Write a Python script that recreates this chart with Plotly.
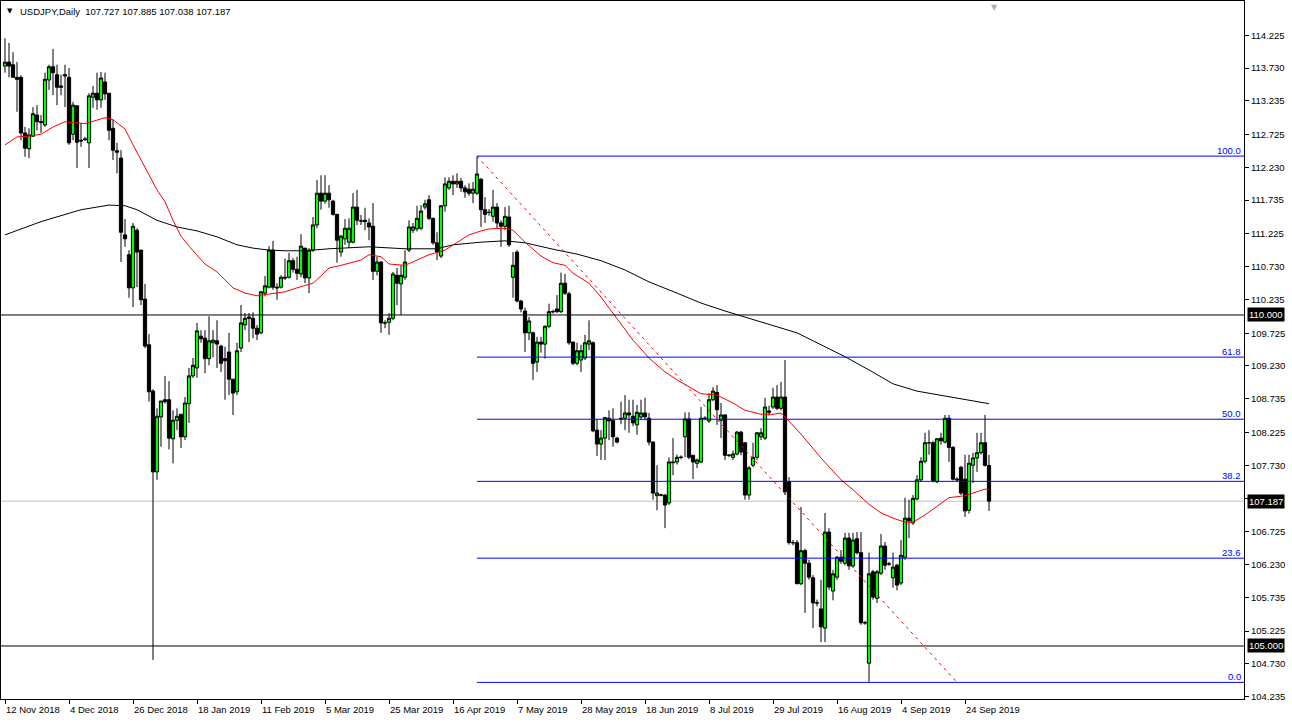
import plotly.graph_objects as go

# ---------------- data ----------------
opens = [113.76,113.82,113.78,113.59,113.59,112.75,112.51,112.70,113.02,112.92,
         112.87,113.55,113.75,113.63,113.46,113.63,113.59,112.73,113.16,112.64,
         112.66,112.60,113.29,113.35,113.25,113.52,113.35,112.82,112.48,112.37,
         111.21,110.91,110.41,111.28,110.98,110.24,109.55,108.85,107.63,108.46,
         108.72,108.72,108.13,108.41,108.50,108.16,108.66,109.08,109.20,109.68,
         109.65,109.34,109.58,109.61,109.53,109.34,109.44,109.03,108.84,109.50,
         109.85,109.97,109.95,109.80,109.73,110.33,110.42,110.98,110.42,110.42,
         110.57,110.57,110.82,110.69,110.62,111.01,110.56,110.98,111.36,111.84,
         111.72,111.84,111.72,111.52,110.95,111.15,111.10,111.10,111.63,111.42,
         111.43,111.39,111.34,110.66,110.80,109.88,109.89,109.95,110.60,110.47,
         110.57,110.98,111.28,111.30,111.31,111.63,111.74,111.46,111.09,110.89,
         111.65,111.92,112.02,111.98,112.02,111.92,111.90,111.84,111.84,112.05,
         111.59,111.55,111.49,111.63,111.39,111.34,111.48,110.57,110.95,110.21,
         110.06,109.73,109.73,109.29,109.59,109.56,109.83,110.05,110.09,110.05,
         110.48,110.32,109.59,109.27,109.32,109.35,109.56,109.58,108.26,108.05,
         108.14,108.44,108.41,108.14,108.44,108.44,108.52,108.47,108.34,108.46,
         108.52,108.44,108.08,107.27,107.28,107.28,107.16,107.78,107.78,107.85,
         108.16,108.43,107.88,107.76,107.78,108.44,108.40,108.72,108.83,108.41,
         108.49,107.88,107.85,107.90,108.23,108.07,107.28,107.73,107.85,108.16,
         108.14,108.55,108.61,108.76,108.59,108.76,107.48,106.56,106.56,105.94,
         106.44,106.25,106.03,105.65,105.56,105.27,106.72,105.83,106.04,106.34,
         106.25,106.63,106.21,106.62,106.41,105.35,104.74,106.12,105.72,106.10,
         106.51,106.24,106.03,106.22,105.95,106.34,106.93,106.86,107.22,107.51,
         107.79,108.07,108.07,107.48,108.14,108.08,108.44,108.00,107.52,107.70,
         107.52,107.05,107.73,107.84,107.92,108.07,107.727]
highs = [114.18,114.11,113.97,113.82,113.62,112.84,112.82,113.14,113.17,113.02,
         113.66,113.78,114.02,113.78,113.63,113.78,113.73,113.22,113.16,112.90,
         112.69,113.35,113.46,113.66,113.67,113.66,113.35,112.95,112.60,112.49,
         111.45,110.98,111.39,111.31,110.98,110.47,109.71,108.88,108.59,108.70,
         109.08,109.00,108.56,108.59,108.50,108.76,109.20,109.35,109.88,109.77,
         109.77,109.98,109.77,109.92,109.55,109.52,109.73,109.03,109.58,110.15,
         110.03,110.03,110.04,109.85,110.36,110.59,111.04,111.12,110.48,110.60,
         110.85,110.94,110.86,110.88,111.22,111.01,111.01,111.48,112.04,112.11,
         112.11,111.96,111.74,111.53,111.21,111.45,111.46,111.84,111.89,111.51,
         111.62,111.46,111.69,110.88,110.81,109.92,110.03,110.65,110.71,110.75,
         110.98,111.43,111.39,111.65,111.66,111.74,111.81,111.47,111.25,111.66,
         112.08,112.08,112.11,112.14,112.07,111.96,111.99,112.01,112.40,112.07,
         111.78,111.60,111.89,111.69,111.43,111.63,111.65,110.95,110.98,110.23,
         110.11,109.97,109.75,109.67,109.67,109.84,110.17,110.08,110.30,110.64,
         110.62,110.35,109.60,109.58,109.55,109.70,109.92,109.60,108.43,108.26,
         108.46,108.56,108.59,108.16,108.69,108.79,108.72,108.72,108.64,108.72,
         108.75,108.52,108.09,107.73,107.30,107.29,107.85,108.14,107.89,107.88,
         108.53,108.53,107.89,107.83,108.61,108.47,108.82,108.91,108.94,108.67,
         108.50,107.90,107.95,108.25,108.25,108.08,107.72,108.07,108.23,108.29,
         108.75,108.63,108.90,108.94,108.99,109.32,107.55,106.60,106.60,107.10,
         106.47,106.30,106.07,105.70,106.00,107.01,106.78,106.15,106.36,106.45,
         106.71,106.71,106.71,106.72,106.72,105.38,106.41,106.15,106.15,106.69,
         106.57,106.27,106.41,106.24,106.60,107.24,107.21,107.28,107.58,107.85,
         108.22,108.26,108.10,108.14,108.22,108.49,108.49,108.02,107.55,107.72,
         107.89,107.89,107.92,108.22,108.22,108.49,107.885]
lows = [113.66,113.59,113.58,113.07,112.64,112.39,112.37,112.69,112.79,112.75,
        112.84,113.40,113.32,113.17,113.32,113.14,112.57,112.64,112.22,112.54,
        112.63,112.22,113.13,113.10,113.13,113.25,112.64,112.34,112.14,110.80,
        111.03,110.26,110.12,110.42,110.15,109.50,108.69,104.79,107.51,108.01,
        108.66,107.97,107.76,108.26,107.99,108.11,108.37,109.05,109.05,109.58,
        109.12,109.24,109.36,109.20,109.14,108.72,108.79,108.49,108.79,109.44,
        109.77,109.59,109.65,109.62,109.71,110.28,110.40,110.38,110.23,110.40,
        110.53,110.55,110.64,110.53,110.57,110.48,110.33,110.95,111.31,111.59,
        111.68,111.62,111.50,110.79,110.88,111.06,111.01,111.08,111.36,111.36,
        111.28,111.13,110.53,110.60,109.73,109.80,109.70,109.92,110.15,110.00,
        110.53,110.95,111.24,111.26,111.28,111.59,111.43,111.06,110.83,110.86,
        111.56,111.89,111.81,111.92,111.86,111.77,111.80,111.69,111.81,111.33,
        111.39,111.50,111.41,111.31,111.03,111.28,111.03,110.26,110.19,110.04,
        109.44,109.62,109.02,109.14,109.43,109.34,109.80,110.02,110.03,110.03,
        110.30,109.55,109.24,109.24,109.14,109.32,109.47,108.23,107.87,107.81,
        107.81,108.11,108.01,108.06,108.35,108.26,108.22,108.32,108.19,108.41,
        108.41,108.03,107.21,107.05,107.26,106.78,107.13,107.58,107.74,107.82,
        107.85,107.82,107.52,107.69,107.76,108.41,108.37,108.70,108.34,108.14,
        107.81,107.85,107.81,107.88,107.88,107.21,107.21,107.70,107.81,108.11,
        108.11,108.48,108.58,108.56,108.56,107.28,106.53,106.52,105.94,105.92,
        105.50,106.00,105.27,105.60,105.06,105.06,105.85,105.69,106.00,106.24,
        106.22,106.15,106.18,106.38,105.32,105.32,104.46,105.70,105.65,106.07,
        106.15,106.21,105.88,105.84,105.92,106.30,106.63,106.83,107.20,107.48,
        107.76,107.89,107.47,107.46,108.04,108.06,107.78,107.50,107.49,107.28,
        106.95,107.00,107.46,107.63,107.89,107.71,107.038]
closes = [113.82,113.76,113.59,113.56,112.75,112.52,112.72,113.04,112.92,112.91,
          113.56,113.75,113.66,113.44,113.44,113.61,112.60,113.17,112.61,112.63,
          112.65,113.31,113.35,113.25,113.58,113.34,112.79,112.49,112.46,111.25,
          111.15,110.41,111.34,110.95,110.23,109.53,108.84,107.63,108.47,108.70,
          108.69,108.14,108.41,108.47,108.16,108.67,109.08,109.24,109.76,109.64,
          109.34,109.61,109.62,109.56,109.27,109.31,109.03,108.82,109.46,109.88,
          109.95,109.95,109.80,109.71,110.35,110.44,110.98,110.42,110.41,110.57,
          110.56,110.82,110.69,110.63,111.04,110.56,110.98,111.36,111.84,111.72,
          111.84,111.74,111.52,111.13,111.19,111.31,111.31,111.63,111.43,111.42,
          111.41,111.33,110.66,110.80,109.88,109.88,109.95,110.62,110.48,110.60,
          110.80,111.33,111.33,111.46,111.57,111.68,111.46,111.09,110.95,111.65,
          111.98,112.02,111.98,112.02,111.92,111.86,111.84,111.90,112.13,111.59,
          111.52,111.55,111.63,111.39,111.34,111.49,111.06,110.75,110.21,110.09,
          109.73,109.91,109.27,109.59,109.56,109.83,110.05,110.05,110.05,110.48,
          110.33,109.58,109.27,109.46,109.46,109.58,109.61,108.25,108.05,108.14,
          108.45,108.40,108.16,108.08,108.43,108.52,108.49,108.37,108.53,108.52,
          108.46,108.08,107.31,107.31,107.28,107.13,107.78,107.77,107.85,107.85,
          108.43,107.85,107.78,107.81,108.44,108.44,108.72,108.85,108.57,108.49,
          107.88,107.88,107.90,108.23,107.93,107.28,107.69,107.85,108.22,108.22,
          108.61,108.53,108.76,108.59,108.76,107.33,106.56,106.56,105.94,106.44,
          106.25,106.04,105.65,105.65,105.29,106.72,105.89,106.09,106.34,106.28,
          106.63,106.21,106.60,106.41,105.35,105.35,106.09,105.74,106.12,106.51,
          106.22,106.24,106.19,105.92,106.37,106.93,106.89,107.23,107.51,107.79,
          108.07,108.07,107.50,108.13,108.10,108.44,108.00,107.52,107.51,107.31,
          107.04,107.76,107.84,107.92,108.07,107.73,107.187]
bars = list(range(len(opens)))

# 50-period moving average (red), read at sample bars
ma50_bar = [0, 3, 6, 9, 12, 15, 20, 23, 25, 27, 30, 32, 35, 38, 40, 42, 44, 47, 50, 53,
            57, 60, 63, 67, 70, 73, 77, 79, 81, 84, 89, 91, 94, 96, 100, 103, 106, 110,
            113, 116, 119, 121, 125, 127, 130, 134, 137, 140, 142, 146, 149, 153, 157,
            161, 165, 168, 171, 174, 178, 182, 185, 189, 192, 194, 195, 199, 204, 209,
            212, 216, 219, 222, 225, 227, 230, 233, 236, 240, 243, 245, 246]
ma50_val = [112.57, 112.69, 112.70, 112.73, 112.84, 112.92, 112.89, 112.95, 112.98, 112.95,
            112.81, 112.57, 112.22, 111.89, 111.71, 111.43, 111.19, 110.97, 110.77, 110.65,
            110.41, 110.33, 110.29, 110.32, 110.35, 110.41, 110.48, 110.59, 110.71, 110.75,
            110.83, 110.91, 110.88, 110.77, 110.75, 110.83, 110.91, 110.98, 111.10, 111.21,
            111.27, 111.30, 111.31, 111.28, 111.10, 110.89, 110.79, 110.75, 110.63, 110.48,
            110.27, 109.95, 109.62, 109.35, 109.14, 109.02, 108.91, 108.81, 108.79, 108.67,
            108.56, 108.50, 108.50, 108.52, 108.46, 108.20, 107.84, 107.51, 107.36, 107.14,
            107.01, 106.93, 106.87, 106.87, 106.98, 107.11, 107.24, 107.27, 107.33, 107.37,
            107.36]

# 200-period moving average (black), read at sample bars
ma200_bar = [0, 9, 19, 26, 30, 33, 38, 43, 48, 53, 58, 62, 66, 70, 75, 81, 91, 100, 108,
             112, 119, 125, 130, 134, 138, 143, 149, 155, 161, 168, 174, 180, 186, 192,
             198, 204, 210, 216, 222, 228, 234, 240, 246]
ma200_val = [111.21, 111.41, 111.59, 111.66, 111.65, 111.59, 111.43, 111.33, 111.27, 111.18,
             111.06, 111.01, 110.98, 110.97, 110.97, 111.00, 111.03, 111.00, 111.00, 111.06,
             111.10, 111.12, 111.09, 111.03, 110.98, 110.92, 110.82, 110.68, 110.50, 110.33,
             110.18, 110.06, 109.95, 109.85, 109.73, 109.55, 109.37, 109.17, 108.96, 108.85,
             108.79, 108.72, 108.66]

date_labels = ["12 Nov 2018", "4 Dec 2018", "26 Dec 2018", "18 Jan 2019", "11 Feb 2019",
               "5 Mar 2019", "25 Mar 2019", "16 Apr 2019", "7 May 2019", "28 May 2019",
               "18 Jun 2019", "8 Jul 2019", "29 Jul 2019", "16 Aug 2019", "4 Sep 2019",
               "24 Sep 2019"]
date_label_bars = [0, 16, 32, 48, 64, 80, 96, 112, 128, 144, 160, 176, 192, 208, 224, 240]

price_ticks = [114.225, 113.730, 113.235, 112.725, 112.230, 111.735, 111.225, 110.730,
               110.235, 109.725, 109.230, 108.735, 108.225, 107.730, 107.225, 106.725,
               106.230, 105.735, 105.225, 104.730, 104.235]
hidden_tick = 107.225   # covered by the last-price tag in the reference

fib_start_bar = 118
fib_end_bar = 238
fib_high = 112.40
fib_low = 104.45
fib_levels = [100.0, 61.8, 50.0, 38.2, 23.6, 0.0]

level_lines = [110.0, 105.0]
last_price = 107.187
header = "USDJPY,Daily  107.727 107.885 107.038 107.187"

# ---------------- figure ----------------
X_MIN, X_MAX = -1, 309.75
Y_MIN, Y_MAX = 104.199, 114.743
FONT = "Liberation Sans"

fig = go.Figure()
fig.add_trace(go.Candlestick(
    x=bars, open=opens, high=highs, low=lows, close=closes,
    increasing=dict(fillcolor="#00FF00", line=dict(color="black", width=1)),
    decreasing=dict(fillcolor="black", line=dict(color="black", width=1)),
    whiskerwidth=0, showlegend=False, hoverinfo="skip"))
fig.add_trace(go.Scatter(x=ma200_bar, y=ma200_val, mode="lines",
                         line=dict(color="black", width=1), showlegend=False, hoverinfo="skip"))
fig.add_trace(go.Scatter(x=ma50_bar, y=ma50_val, mode="lines",
                         line=dict(color="#FF0000", width=1), showlegend=False, hoverinfo="skip"))

shapes = []
shapes.append(dict(type="line", xref="x", yref="y", x0=X_MIN, x1=X_MAX, y0=last_price, y1=last_price,
                   line=dict(color="#C0C0C0", width=1), layer="below"))
for lv in level_lines:
    shapes.append(dict(type="line", xref="x", yref="y", x0=X_MIN, x1=X_MAX, y0=lv, y1=lv,
                       line=dict(color="black", width=1)))
for f in fib_levels:
    p = fib_low + (fib_high - fib_low) * f / 100.0
    shapes.append(dict(type="line", xref="x", yref="y", x0=fib_start_bar, x1=X_MAX, y0=p, y1=p,
                       line=dict(color="#0000FF", width=1)))
shapes.append(dict(type="line", xref="x", yref="y", x0=fib_start_bar, x1=fib_end_bar,
                   y0=fib_high, y1=fib_low, line=dict(color="#FF0000", width=1, dash="3px,4px")))
# window border on the far right
shapes.append(dict(type="line", xref="paper", yref="paper", x0=1.0390, x1=1.0390,
                   y0=-0.04, y1=1.01, line=dict(color="#A0A0A0", width=1)))

annotations = []
for f in fib_levels:
    p = fib_low + (fib_high - fib_low) * f / 100.0
    annotations.append(dict(x=X_MAX, y=p, xref="x", yref="y", text=f"{f:.1f}", showarrow=False,
                            xanchor="right", yanchor="bottom", xshift=-1, yshift=-2,
                            font=dict(family=FONT, size=9.5, color="#0000FF")))
for lv, txt in [(110.0, "110.000"), (105.0, "105.000"), (last_price, f"{last_price:.3f}")]:
    annotations.append(dict(x=1, y=lv, xref="paper", yref="y", text=txt, showarrow=False,
                            xanchor="left", yanchor="middle", xshift=3,
                            bgcolor="black", borderpad=1,
                            font=dict(family=FONT, size=9.5, color="white")))
for b, t in zip(date_label_bars, date_labels):
    annotations.append(dict(x=b, y=0, xref="x", yref="paper", text=t, showarrow=False,
                            xanchor="left", yanchor="top", xshift=-1, yshift=-3,
                            font=dict(family=FONT, size=9.5, color="black")))
annotations.append(dict(x=0, y=1, xref="paper", yref="paper", text="▼", showarrow=False,
                        xanchor="left", yanchor="top", xshift=4, yshift=-4,
                        font=dict(family="DejaVu Sans", size=7, color="black")))
annotations.append(dict(x=0, y=1, xref="paper", yref="paper", text=header, showarrow=False,
                        xanchor="left", yanchor="top", xshift=17, yshift=-3,
                        font=dict(family=FONT, size=9.5, color="black")))
annotations.append(dict(x=247, y=1, xref="x", yref="paper", text="▼", showarrow=False,
                        xanchor="center", yanchor="top", xshift=1, yshift=0,
                        font=dict(family="DejaVu Sans", size=8, color="#B0B0B0")))

fig.update_layout(
    width=1292, height=722,
    margin=dict(l=1, r=48, t=1, b=23),
    paper_bgcolor="white", plot_bgcolor="white",
    boxgap=0.1, boxgroupgap=0.1,
    shapes=shapes, annotations=annotations,
    xaxis=dict(range=[X_MIN, X_MAX], showgrid=False, zeroline=False, showline=True,
               linecolor="black", linewidth=1, mirror=True,
               tickvals=date_label_bars, ticks="outside", ticklen=4, tickcolor="black",
               showticklabels=False, rangeslider=dict(visible=False), fixedrange=True),
    yaxis=dict(range=[Y_MIN, Y_MAX], side="right", showgrid=False, zeroline=False,
               showline=True, linecolor="black", linewidth=1, mirror=True,
               tickvals=price_ticks,
               ticktext=["" if v == hidden_tick else f"{v:.3f}" for v in price_ticks],
               ticks="outside", ticklen=4, tickcolor="black",
               tickfont=dict(family=FONT, size=9.5, color="black")),
    showlegend=False,
)

fig.write_html("out.html", config={"displayModeBar": False},
               post_script="document.body.style.margin='0px';document.body.style.overflow='hidden';")
